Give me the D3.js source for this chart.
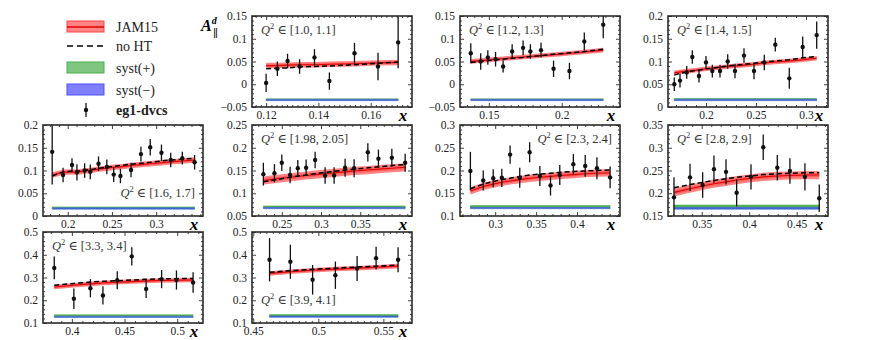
<!DOCTYPE html>
<html>
<head>
<meta charset="utf-8">
<script src="https://cdn.jsdelivr.net/npm/d3@7"></script>
<style>
  body { margin: 0; background: #fff; }
  svg { font-family: "Liberation Serif", "DejaVu Serif", serif; }
</style>
</head>
<body>
<svg id="chart" width="872" height="340"></svg>
<script>
// Q^2 bins, one panel per bin
const q2Bins = ["[1.0,  1.1]", "[1.2,  1.3]", "[1.4,  1.5]", "[1.6,  1.7]", "[1.98,  2.05]",
                "[2.3,  2.4]", "[2.8,  2.9]", "[3.3,  3.4]", "[3.9,  4.1]"];

// measured points (x, A_par^d, stat error)
const dataX = [
  [0.120, 0.1243, 0.1282, 0.1328, 0.1385, 0.1442, 0.1538, 0.1628, 0.1705],
  [0.1376, 0.1444, 0.1493, 0.1546, 0.1598, 0.166, 0.1735, 0.1785, 0.1858, 0.1944, 0.2053, 0.2155, 0.2285],
  [0.1683, 0.174, 0.1807, 0.1863, 0.193, 0.200, 0.2063, 0.214, 0.2217, 0.229, 0.238, 0.248, 0.2583, 0.2693, 0.2833, 0.2967, 0.3107],
  [0.1824, 0.1947, 0.2048, 0.2104, 0.2191, 0.2255, 0.2348, 0.2442, 0.252, 0.2596, 0.2716, 0.2828, 0.2933, 0.306, 0.3165, 0.3296, 0.3435],
  [0.2265, 0.2406, 0.250, 0.2606, 0.2704, 0.281, 0.2925, 0.3052, 0.3167, 0.3307, 0.3422, 0.3597, 0.3732, 0.3903, 0.4073],
  [0.2697, 0.2854, 0.2976, 0.3081, 0.3182, 0.330, 0.3421, 0.3546, 0.3676, 0.3789, 0.3955, 0.410, 0.4243, 0.4404],
  [0.3208, 0.3377, 0.351, 0.3629, 0.3756, 0.3868, 0.4019, 0.4148, 0.4296, 0.4429, 0.4587, 0.4738],
  [0.3833, 0.4019, 0.4176, 0.4295, 0.4431, 0.4569, 0.4705, 0.4852, 0.4993, 0.5151],
  [0.4625, 0.4785, 0.4956, 0.5131, 0.5298, 0.5444, 0.5613]
];
const dataY = [
  [0.003, 0.034, 0.051, 0.039, 0.059, 0.007, 0.068, 0.039, 0.092],
  [0.068, 0.050, 0.059, 0.055, 0.039, 0.072, 0.080, 0.072, 0.075, 0.034, 0.029, 0.094, 0.131],
  [0.050, 0.058, 0.076, 0.110, 0.068, 0.098, 0.079, 0.079, 0.100, 0.079, 0.113, 0.079, 0.098, 0.137, 0.063, 0.132, 0.158],
  [0.141, 0.090, 0.112, 0.096, 0.100, 0.097, 0.115, 0.108, 0.091, 0.088, 0.101, 0.136, 0.151, 0.139, 0.123, 0.127, 0.118],
  [0.142, 0.144, 0.167, 0.140, 0.155, 0.156, 0.173, 0.139, 0.139, 0.156, 0.155, 0.190, 0.176, 0.178, 0.167],
  [0.199, 0.178, 0.183, 0.184, 0.235, 0.184, 0.240, 0.188, 0.167, 0.190, 0.214, 0.210, 0.205, 0.185],
  [0.191, 0.235, 0.218, 0.253, 0.247, 0.201, 0.236, 0.301, 0.256, 0.249, 0.236, 0.189],
  [0.342, 0.207, 0.253, 0.221, 0.288, 0.393, 0.250, 0.293, 0.289, 0.278],
  [0.378, 0.369, 0.290, 0.310, 0.340, 0.385, 0.378]
];
const dataErr = [
  [0.020, 0.016, 0.016, 0.016, 0.018, 0.019, 0.023, 0.030, 0.057],
  [0.022, 0.018, 0.016, 0.016, 0.013, 0.016, 0.016, 0.016, 0.016, 0.018, 0.018, 0.020, 0.030],
  [0.015, 0.015, 0.014, 0.015, 0.014, 0.014, 0.014, 0.014, 0.016, 0.016, 0.016, 0.018, 0.017, 0.015, 0.023, 0.023, 0.030],
  [0.072, 0.016, 0.015, 0.018, 0.016, 0.016, 0.016, 0.016, 0.016, 0.016, 0.016, 0.016, 0.018, 0.018, 0.016, 0.014, 0.016],
  [0.025, 0.020, 0.018, 0.018, 0.018, 0.018, 0.018, 0.018, 0.018, 0.020, 0.020, 0.020, 0.020, 0.020, 0.020],
  [0.042, 0.022, 0.020, 0.020, 0.020, 0.022, 0.022, 0.022, 0.022, 0.022, 0.022, 0.024, 0.024, 0.024],
  [0.044, 0.030, 0.028, 0.030, 0.028, 0.030, 0.028, 0.028, 0.028, 0.028, 0.030, 0.030],
  [0.050, 0.045, 0.040, 0.040, 0.040, 0.040, 0.040, 0.040, 0.042, 0.045],
  [0.095, 0.075, 0.065, 0.060, 0.055, 0.050, 0.055]
];

// JAM15 central values and half width of its band, and the fit without higher twist
const jamMid = [
  [0.041, 0.041, 0.042, 0.043, 0.043, 0.044, 0.045, 0.047, 0.048],
  [0.050, 0.052, 0.053, 0.055, 0.056, 0.058, 0.060, 0.061, 0.063, 0.065, 0.068, 0.071, 0.075],
  [0.075, 0.077, 0.079, 0.080, 0.082, 0.084, 0.085, 0.087, 0.089, 0.090, 0.092, 0.094, 0.097, 0.099, 0.101, 0.104, 0.107],
  [0.090, 0.096, 0.097, 0.096, 0.099, 0.100, 0.103, 0.105, 0.107, 0.108, 0.111, 0.113, 0.115, 0.117, 0.119, 0.121, 0.123],
  [0.128, 0.131, 0.133, 0.135, 0.137, 0.139, 0.141, 0.143, 0.145, 0.147, 0.149, 0.151, 0.153, 0.155, 0.157],
  [0.155, 0.165, 0.170, 0.174, 0.177, 0.180, 0.183, 0.185, 0.187, 0.189, 0.191, 0.193, 0.194, 0.195],
  [0.202, 0.210, 0.216, 0.221, 0.225, 0.229, 0.233, 0.236, 0.238, 0.239, 0.240, 0.240],
  [0.258, 0.266, 0.272, 0.276, 0.279, 0.282, 0.285, 0.287, 0.288, 0.289],
  [0.318, 0.325, 0.332, 0.337, 0.341, 0.345, 0.350]
];
const jamHalf = [0.006, 0.005, 0.005, 0.006, 0.009, 0.008, 0.009, 0.010, 0.010];
const noHT = [
  [0.034, 0.035, 0.036, 0.038, 0.039, 0.040, 0.043, 0.046, 0.049],
  [0.048, 0.050, 0.052, 0.054, 0.055, 0.057, 0.059, 0.061, 0.063, 0.066, 0.069, 0.072, 0.077],
  [0.070, 0.074, 0.077, 0.079, 0.081, 0.084, 0.085, 0.088, 0.090, 0.092, 0.094, 0.096, 0.099, 0.101, 0.104, 0.108, 0.111],
  [0.088, 0.097, 0.099, 0.098, 0.101, 0.102, 0.105, 0.107, 0.109, 0.111, 0.114, 0.116, 0.118, 0.121, 0.123, 0.125, 0.127],
  [0.125, 0.129, 0.132, 0.135, 0.138, 0.140, 0.143, 0.146, 0.148, 0.151, 0.153, 0.156, 0.158, 0.161, 0.163],
  [0.160, 0.170, 0.176, 0.180, 0.183, 0.187, 0.190, 0.192, 0.194, 0.196, 0.198, 0.199, 0.200, 0.201],
  [0.212, 0.219, 0.224, 0.228, 0.232, 0.235, 0.238, 0.241, 0.243, 0.244, 0.245, 0.245],
  [0.266, 0.274, 0.280, 0.283, 0.286, 0.289, 0.292, 0.294, 0.295, 0.296],
  [0.323, 0.330, 0.336, 0.341, 0.346, 0.350, 0.354]
];

// systematic bands: baseline, upward (+) and downward (-) size
const systBase = [-0.033, -0.033, 0.017, 0.018, 0.069, 0.119, 0.169, 0.130, 0.131];
const systPlus = [0.0008, 0.0008, 0.0015, 0.002, 0.003, 0.004, 0.005, 0.006, 0.006];
const systMinus = [0.003, 0.003, 0.003, 0.003, 0.003, 0.003, 0.004, 0.006, 0.006];

// axis ranges and ticks
const xDomains = [[0.1146, 0.1758], [0.1302, 0.240], [0.162, 0.322], [0.172, 0.353], [0.212, 0.416],
                  [0.257, 0.4525], [0.3145, 0.483], [0.3726, 0.5245], [0.449, 0.572]];
const xTicks = [[0.12, 0.14, 0.16], [0.15, 0.2], [0.2, 0.25, 0.3], [0.2, 0.25, 0.3], [0.25, 0.3, 0.35],
                [0.3, 0.35, 0.4], [0.35, 0.4, 0.45], [0.4, 0.45, 0.5], [0.45, 0.5, 0.55]];
const yDomains = [[-0.05, 0.15], [-0.05, 0.15], [0, 0.2], [0, 0.2], [0.05, 0.25],
                  [0.1, 0.3], [0.15, 0.35], [0.1, 0.5], [0.1, 0.5]];
const yTicks = [[-0.05, 0, 0.05, 0.1, 0.15], [-0.05, 0, 0.05, 0.1, 0.15], [0, 0.05, 0.1, 0.15, 0.2],
                [0, 0.05, 0.1, 0.15, 0.2], [0.05, 0.1, 0.15, 0.2, 0.25], [0.1, 0.15, 0.2, 0.25, 0.3],
                [0.15, 0.2, 0.25, 0.3, 0.35], [0.1, 0.2, 0.3, 0.4, 0.5], [0.1, 0.2, 0.3, 0.4, 0.5]];

const legendLabels = ["JAM15", "no HT", "syst(+)", "syst(\u2212)", "eg1-dvcs"];

// layout
const colX = [43, 252, 460, 668];
const rowY = [16, 125, 232];
const W = 160, H = 91;
const cells = [[0, 1], [0, 2], [0, 3], [1, 0], [1, 1], [1, 2], [1, 3], [2, 0], [2, 1]];
// where the Q^2 text goes in each panel
const q2Pos = ["tl", "tl", "tl", "br", "tl", "tr", "tl", "tl", "bl"];

const svg = d3.select("#chart");
const frameColor = "#2b2b2b";

function fmt(v) {
  let s = d3.format(".2f")(Math.abs(v)).replace(/0+$/, "").replace(/\.$/, "");
  if (Math.abs(v) < 1e-9) return "0";
  return (v < 0 ? "\u2212" : "") + s;
}

const defs = svg.append("defs");

q2Bins.forEach((bin, p) => {
  const [r, c] = cells[p];
  const g = svg.append("g").attr("transform", `translate(${colX[c]},${rowY[r]})`);
  const x = d3.scaleLinear().domain(xDomains[p]).range([0, W]);
  const y = d3.scaleLinear().domain(yDomains[p]).range([H, 0]);

  defs.append("clipPath").attr("id", "clip" + p)
    .append("rect").attr("width", W).attr("height", H);
  const plot = g.append("g").attr("clip-path", `url(#clip${p})`);

  const xs = dataX[p];
  const pts = xs.map((v, i) => ({ x: v, y: dataY[p][i], e: dataErr[p][i], m: jamMid[p][i], n: noHT[p][i] }));

  // systematic bands
  const ends = [xs[0], xs[xs.length - 1]];
  const sysArea = (lo, hi) => d3.area().x(d => x(d)).y0(y(lo)).y1(y(hi))(ends);
  plot.append("path").attr("d", sysArea(systBase[p], systBase[p] + systPlus[p]))
    .attr("fill", "#52b152").attr("stroke", "#52b152").attr("stroke-width", 0.6);
  plot.append("path").attr("d", sysArea(systBase[p] - systMinus[p], systBase[p]))
    .attr("fill", "#3f67cf").attr("stroke", "#3f67cf").attr("stroke-width", 0.6);

  // JAM15 band
  const band = d3.area().x(d => x(d.x)).y0(d => y(d.m - jamHalf[p])).y1(d => y(d.m + jamHalf[p]));
  plot.append("path").datum(pts).attr("d", band).attr("fill", "#ff2020").attr("fill-opacity", 0.55);
  plot.append("path").datum(pts)
    .attr("d", d3.area().x(d => x(d.x)).y0(d => y(d.m - jamHalf[p] * 0.5)).y1(d => y(d.m + jamHalf[p] * 0.5)))
    .attr("fill", "#ff2020").attr("fill-opacity", 0.35);
  plot.append("path").datum(pts)
    .attr("d", d3.line().x(d => x(d.x)).y(d => y(d.m)))
    .attr("fill", "none").attr("stroke", "#e00000").attr("stroke-width", 1.1);

  // no HT
  plot.append("path").datum(pts)
    .attr("d", d3.line().x(d => x(d.x)).y(d => y(d.n)))
    .attr("fill", "none").attr("stroke", "#000").attr("stroke-width", 1.5)
    .attr("stroke-dasharray", "5,3");

  // data with error bars
  const pg = plot.selectAll("g.pt").data(pts).join("g").attr("class", "pt");
  pg.append("line")
    .attr("x1", d => x(d.x)).attr("x2", d => x(d.x))
    .attr("y1", d => y(d.y - d.e)).attr("y2", d => y(d.y + d.e))
    .attr("stroke", "#111").attr("stroke-width", 1.3);
  pg.append("circle").attr("cx", d => x(d.x)).attr("cy", d => y(d.y)).attr("r", 2.2).attr("fill", "#111");

  // axes: ticks inward on all four sides
  const xMinor = x.ticks(20).filter(t => !xTicks[p].some(m => Math.abs(m - t) < 1e-9));
  const yMinor = y.ticks(20).filter(t => !yTicks[p].some(m => Math.abs(m - t) < 1e-9));
  const ax = [
    [d3.axisBottom(x).tickValues(xTicks[p]).tickFormat(fmt).tickSizeInner(-4).tickSizeOuter(0).tickPadding(4), `translate(0,${H})`],
    [d3.axisBottom(x).tickValues(xMinor).tickFormat("").tickSizeInner(-2).tickSizeOuter(0), `translate(0,${H})`],
    [d3.axisTop(x).tickValues(xTicks[p]).tickFormat("").tickSizeInner(-4).tickSizeOuter(0), null],
    [d3.axisTop(x).tickValues(xMinor).tickFormat("").tickSizeInner(-2).tickSizeOuter(0), null],
    [d3.axisLeft(y).tickValues(yTicks[p]).tickFormat(fmt).tickSizeInner(-4).tickSizeOuter(0).tickPadding(5), null],
    [d3.axisLeft(y).tickValues(yMinor).tickFormat("").tickSizeInner(-2).tickSizeOuter(0), null],
    [d3.axisRight(y).tickValues(yTicks[p]).tickFormat("").tickSizeInner(-4).tickSizeOuter(0), `translate(${W},0)`],
    [d3.axisRight(y).tickValues(yMinor).tickFormat("").tickSizeInner(-2).tickSizeOuter(0), `translate(${W},0)`]
  ];
  ax.forEach(([a, t]) => {
    const ag = g.append("g").call(a);
    if (t) ag.attr("transform", t);
    ag.select(".domain").remove();
    ag.selectAll("line").attr("stroke", frameColor).attr("stroke-width", 0.9);
    ag.selectAll("text").attr("font-family", "Liberation Serif, serif").attr("font-size", 11.5).attr("fill", "#222");
  });
  g.append("rect").attr("width", W).attr("height", H)
    .attr("fill", "none").attr("stroke", frameColor).attr("stroke-width", 1.6);

  // x label
  g.append("text").attr("x", W - 9).attr("y", H + 14).attr("text-anchor", "middle")
    .attr("font-size", 17).attr("font-weight", "bold").attr("font-style", "italic").text("x");

  // Q^2 label
  const pos = q2Pos[p];
  const t = g.append("text").attr("font-size", 12.5).attr("fill", "#333")
    .attr("x", pos[1] === "l" ? 9 : W - 8)
    .attr("y", pos[0] === "t" ? 18 : H - 19)
    .attr("text-anchor", pos[1] === "l" ? "start" : "end");
  t.append("tspan").attr("font-style", "italic").text("Q");
  t.append("tspan").attr("font-size", 8.5).attr("dy", -5).text("2");
  t.append("tspan").attr("dy", 5).text(" \u2208 " + bin);
});

// y label A_par^d
const yl = svg.append("text").attr("x", 201).attr("y", 31).attr("font-size", 16)
  .attr("font-weight", "bold").attr("font-style", "italic");
yl.append("tspan").text("A");
yl.append("tspan").attr("font-size", 10).attr("dy", -7).text("d");
svg.append("text").attr("x", 213).attr("y", 37).attr("font-size", 11).text("\u2225");

// legend
const lg = svg.append("g").attr("transform", "translate(67,0)");
const rowsY = [27, 46, 68, 90, 110];
const sw = 37;
lg.append("rect").attr("y", rowsY[0] - 6).attr("width", sw).attr("height", 11)
  .attr("fill", "#ff2020").attr("fill-opacity", 0.55).attr("stroke", "#ff4040");
lg.append("line").attr("x2", sw).attr("y1", rowsY[0]).attr("y2", rowsY[0]).attr("stroke", "#e00000").attr("stroke-width", 1.3);
lg.append("line").attr("x2", sw).attr("y1", rowsY[1]).attr("y2", rowsY[1])
  .attr("stroke", "#000").attr("stroke-width", 1.5).attr("stroke-dasharray", "6,4");
lg.append("rect").attr("y", rowsY[2] - 6).attr("width", sw).attr("height", 11)
  .attr("fill", "#2ca02c").attr("fill-opacity", 0.6).attr("stroke", "#4caf4c");
lg.append("rect").attr("y", rowsY[3] - 6).attr("width", sw).attr("height", 11)
  .attr("fill", "#0000ff").attr("fill-opacity", 0.5).attr("stroke", "#5050ff");
lg.append("line").attr("x1", 19).attr("x2", 19).attr("y1", rowsY[4] - 7).attr("y2", rowsY[4] + 7)
  .attr("stroke", "#111").attr("stroke-width", 1.3);
lg.append("circle").attr("cx", 19).attr("cy", rowsY[4]).attr("r", 2.2).attr("fill", "#111");
legendLabels.forEach((l, i) => {
  lg.append("text").attr("x", 49).attr("y", rowsY[i] + 5).attr("font-size", 14)
    .attr("font-weight", i === 4 ? "bold" : "normal").attr("fill", "#222").text(l);
});
</script>
</body>
</html>
